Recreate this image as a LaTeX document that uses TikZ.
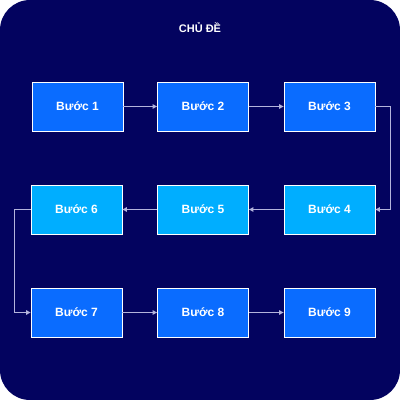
\documentclass[tikz,border=0pt]{standalone}
\usepackage{fontspec}
\setmainfont{Liberation Sans}
\usetikzlibrary{arrows.meta}
\definecolor{navy}{HTML}{03035F}
\definecolor{stepblue}{HTML}{0A6CFF}
\definecolor{stepcyan}{HTML}{00AEFF}
\definecolor{linkgray}{HTML}{B4B4DC}
\begin{document}
\begin{tikzpicture}[x=1pt,y=-1pt,
	stepbox/.style={draw=white, line width=0.8pt, minimum width=91pt, minimum height=49pt, inner sep=0pt, text=white, font=\bfseries\fontsize{12}{14}\selectfont},
	link/.style={draw=linkgray, line width=1.3pt, -{Triangle[length=4.5pt,width=4.5pt]}}]
		\fill[navy, rounded corners=30pt] (0,0) rectangle (400,400);
		\useasboundingbox (0,0) rectangle (400,400);
		\node[text=white, font=\bfseries\fontsize{11}{13}\selectfont] (title) at (200,28) {CHỦ ĐỀ};
		\node[stepbox, fill=stepblue] (b1) at (77.5,106.5) {Bước 1};
		\node[stepbox, fill=stepblue] (b2) at (203,106.5) {Bước 2};
		\node[stepbox, fill=stepblue] (b3) at (329.5,106.5) {Bước 3};
		\node[stepbox, fill=stepcyan] (b6) at (76.5,209.5) {Bước 6};
		\node[stepbox, fill=stepcyan] (b5) at (203,209.5) {Bước 5};
		\node[stepbox, fill=stepcyan] (b4) at (329.5,209.5) {Bước 4};
		\node[stepbox, fill=stepblue] (b7) at (76.5,312.5) {Bước 7};
		\node[stepbox, fill=stepblue] (b8) at (203,312.5) {Bước 8};
		\node[stepbox, fill=stepblue] (b9) at (329.5,312.5) {Bước 9};
		\draw[link] (b1) -- (b2);
		\draw[link] (b2) -- (b3);
		\draw[link] (b3.east) -- ++(15,0) |- (b4.east);
		\draw[link] (b4) -- (b5);
		\draw[link] (b5) -- (b6);
		\draw[link] (b6.west) -- ++(-16,0) |- (b7.west);
		\draw[link] (b7) -- (b8);
		\draw[link] (b8) -- (b9);
	\end{tikzpicture}
\end{document}
